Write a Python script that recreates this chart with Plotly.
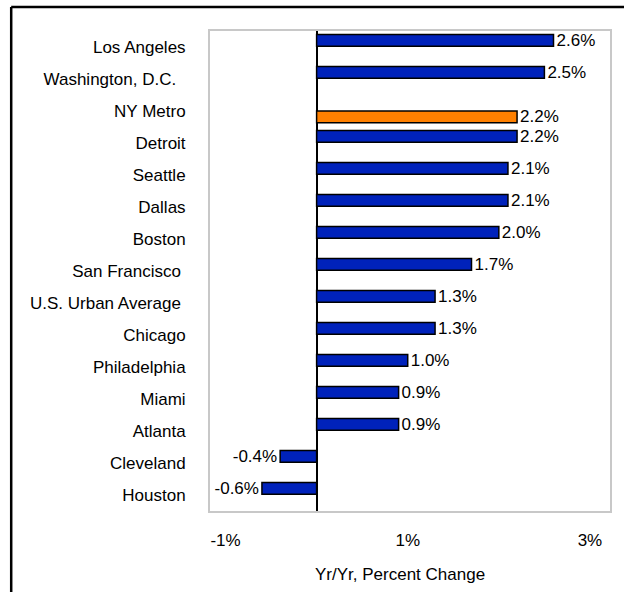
import plotly.graph_objects as go

cities = ["Los Angeles", "Washington, D.C.\u00a0\u00a0", "NY Metro", "Detroit", "Seattle", "Dallas",
          "Boston", "San Francisco\u00a0", "U.S. Urban Average\u00a0", "Chicago", "Philadelphia",
          "Miami", "Atlanta", "Cleveland", "Houston"]
others = [2.6, 2.5, None, 2.2, 2.1, 2.1, 2.0, 1.7, 1.3, 1.3, 1.0, 0.9, 0.9, -0.4, -0.6]
ny_metro = [None, None, 2.2, None, None, None, None, None, None, None, None, None, None, None, None]
tick_vals = [-1, 1, 3]
tick_text = ["-1%", "1%", "3%"]

FONT = "Arial, 'Liberation Sans', sans-serif"

fig = go.Figure()
fig.add_trace(go.Bar(
    y=cities, x=others, orientation="h",
    marker=dict(color="#0022BB", line=dict(color="black", width=1.5)),
    width=0.37, offset=-0.39,
    text=[None if v is None else f"{v:.1f}%" for v in others],
    textposition="outside", constraintext="none", cliponaxis=False,
    textfont=dict(size=17, color="black", family=FONT),
))
fig.add_trace(go.Bar(
    y=cities, x=ny_metro, orientation="h",
    marker=dict(color="#FF8000", line=dict(color="black", width=1.5)),
    width=0.37, offset=0.0,
    text=[None if v is None else f"{v:.1f}%" for v in ny_metro],
    textposition="outside", constraintext="none", cliponaxis=False,
    textfont=dict(size=17, color="black", family=FONT),
))

fig.update_layout(
    width=624, height=592,
    margin=dict(l=210, r=12, t=31, b=81),
    paper_bgcolor="white", plot_bgcolor="white",
    showlegend=False, barmode="overlay",
    font=dict(family=FONT, size=17, color="black"),
    xaxis=dict(range=[-1.17, 3.22], tickvals=tick_vals, ticktext=tick_text,
               showgrid=False, zeroline=True, zerolinecolor="black", zerolinewidth=2,
               showline=True, mirror=True, linecolor="#C8C8C8", linewidth=2,
               ticks="", ticklabelstandoff=13, tickfont=dict(size=17)),
    yaxis=dict(range=[14.5, -0.5], showgrid=False, zeroline=False,
               showline=True, mirror=True, linecolor="#C8C8C8", linewidth=2,
               ticks="", ticklabelstandoff=19, tickfont=dict(size=17)),
    shapes=[
        dict(type="line", xref="paper", yref="paper", x0=-0.497, x1=1.05, y0=1.05, y1=1.05,
             line=dict(color="black", width=2.5), layer="above"),
        dict(type="line", xref="paper", yref="paper", x0=-0.497, x1=-0.497, y0=1.05, y1=-0.2,
             line=dict(color="black", width=2.5), layer="above"),
    ],
    annotations=[dict(text="Yr/Yr, Percent Change", xref="paper", yref="paper",
                      x=0.476, y=-0.132, xanchor="center", yanchor="middle",
                      showarrow=False, font=dict(size=17, color="black"))],
)

fig.write_html("out.html", config={"displayModeBar": False},
               post_script="document.body.style.margin='0';")
